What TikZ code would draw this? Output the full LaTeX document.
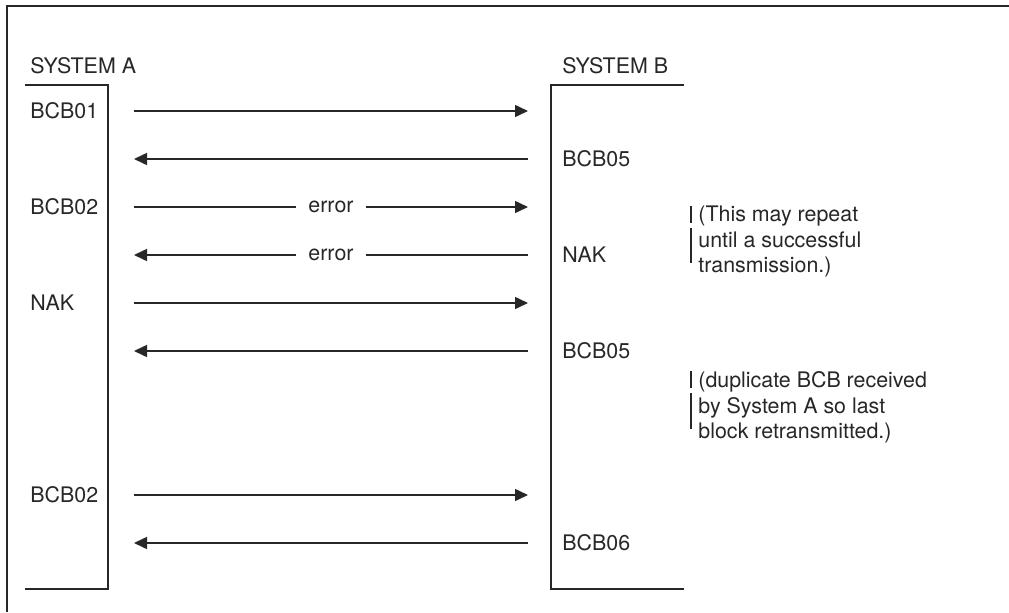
\documentclass[tikz,border=0pt]{standalone}
\usepackage{fontspec}
\setmainfont{TeX Gyre Heros}
\usetikzlibrary{arrows.meta}
\definecolor{InkGray}{RGB}{40, 38, 38}
\tikzset{
  msg/.style = {-{Triangle[length = 6.5pt, width = 6pt]}, line width = 0.75pt},
  tag/.style = {anchor = base west, inner sep = 0pt, font = \fontsize{10.7}{12.8}\selectfont},
}
\begin{document}
\begin{tikzpicture}[x = 0.5pt, y = -0.5pt, color = InkGray]
\useasboundingbox (0,0) rectangle (1009,612);
\draw[line width = 0.75pt] (7,612) -- (7,6) -- (1009,6);
% the two systems
\draw[line width = 0.75pt] (25,85) -- (108,85) -- (108,589) -- (25,589);
\draw[line width = 0.75pt] (684,85) -- (551,85) -- (551,589) -- (684,589);
\node[tag] (sysA) at (30,73) {SYSTEM A};
\node[tag] (sysB) at (562,73) {SYSTEM B};
% rows of the exchange
\foreach \i/\y in {1/111, 2/159, 3/207, 4/255, 5/303, 6/351, 7/495, 8/543}{
\coordinate (a\i) at (134,\y);
\coordinate (b\i) at (528,\y);
}
\foreach \i/\y/\t in {1/111/BCB01, 3/207/BCB02, 5/303/NAK, 7/495/BCB02}{
\node[tag] (left\i) at (30,\y+7.5) {\t};
}
\foreach \i/\y/\t in {2/159/BCB05, 4/255/NAK, 6/351/BCB05, 8/543/BCB06}{
\node[tag] (right\i) at (562,\y+7.5) {\t};
}
\foreach \i in {1,5,7}{
\draw[msg] (a\i) -- (b\i);
}
\foreach \i in {2,6,8}{
\draw[msg] (b\i) -- (a\i);
}
\draw[msg] (a3) -- node[fill = white, inner xsep = 6pt, font = \fontsize{10.7}{12.8}\selectfont] (err3) {error} (b3);
\draw[msg] (b4) -- node[fill = white, inner xsep = 6pt, font = \fontsize{10.7}{12.8}\selectfont] (err4) {error} (a4);
% notes with change bars (base is the last line)
\node[tag, align = left] (note1) at (698,272.7) {(This may repeat\\until a successful\\transmission.)};
\node[tag, align = left] (note2) at (698,438.7) {(duplicate BCB received\\by System A so last\\block retransmitted.)};
\draw[line width = 1pt] (691,206) -- (691,223);
\draw[line width = 1pt] (691,228) -- (691,263);
\draw[line width = 1pt] (691,371) -- (691,388);
\draw[line width = 1pt] (691,393) -- (691,429);
\end{tikzpicture}
\end{document}
